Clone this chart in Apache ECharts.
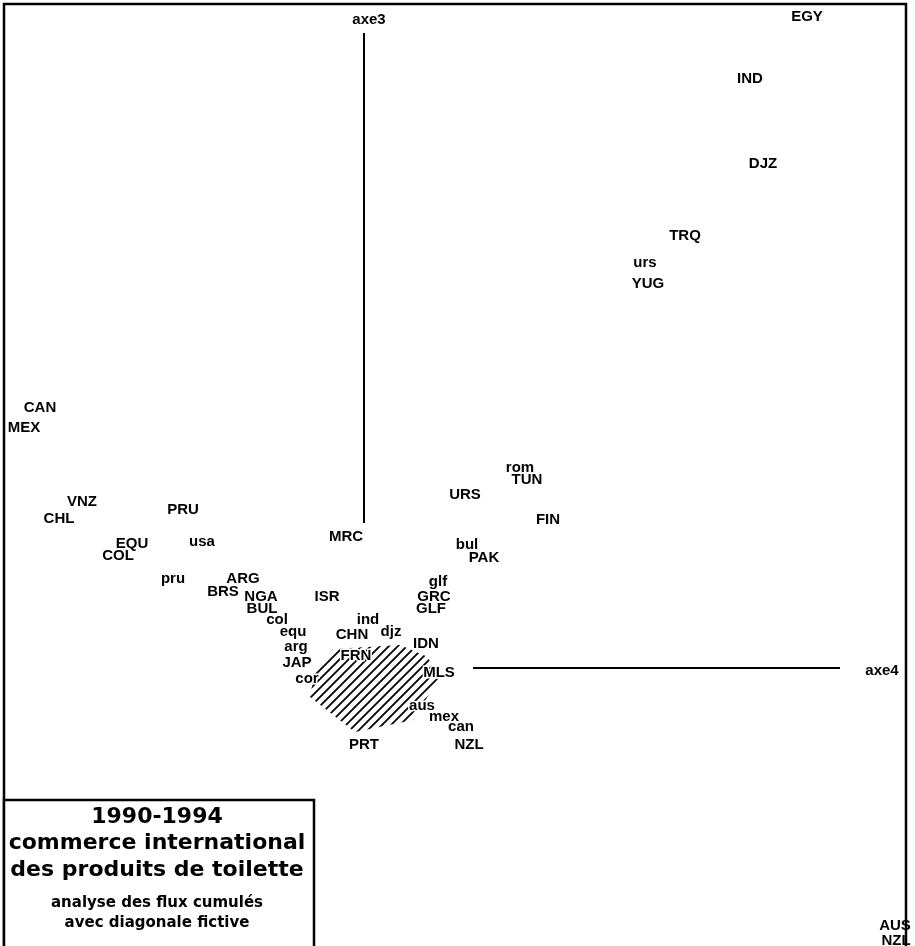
<!DOCTYPE html>
<html>
<head>
<meta charset="utf-8">
<script src="https://cdn.jsdelivr.net/npm/echarts@6/dist/echarts.min.js"></script>
<style>
html,body{margin:0;padding:0;background:#fff;}
#main{width:915px;height:946px;}
</style>
</head>
<body>
<div id="main"></div>
<script>
// Country labels (factor plane axe4 x axe3)
const names = ['EGY','IND','DJZ','TRQ','urs','YUG','CAN','MEX','VNZ','CHL','PRU','EQU','COL','usa','MRC','URS','rom','TUN','FIN','bul','PAK','pru','ARG','BRS','NGA','ISR','BUL','col','glf','GRC','GLF','ind','djz','CHN','equ','arg','IDN','JAP','FRN','MLS','cor','aus','mex','can','PRT','NZL','AUS','NZL'];
const xs = [4.43,3.86,3.99,3.21,2.81,2.84,-3.24,-3.40,-2.82,-3.05,-1.81,-2.32,-2.46,-1.62,-0.18,1.01,1.56,1.63,1.84,1.03,1.20,-1.91,-1.21,-1.41,-1.03,-0.37,-1.02,-0.87,0.74,0.70,0.67,0.04,0.27,-0.12,-0.71,-0.68,0.62,-0.67,-0.08,0.75,-0.57,0.58,0.80,0.97,0.00,1.05,5.31,5.32];
const ys = [6.51,5.89,5.04,4.32,4.05,3.84,2.60,2.40,1.66,1.49,1.58,1.24,1.12,1.26,1.31,1.73,2.00,1.88,1.48,1.23,1.10,0.89,0.89,0.76,0.71,0.71,0.59,0.48,0.86,0.71,0.59,0.48,0.36,0.33,0.36,0.21,0.24,0.05,0.12,-0.05,-0.11,-0.38,-0.49,-0.59,-0.77,-0.77,-2.58,-2.73];

// Axis segments and their labels
const axe3Line = [[0, 6.35], [0, 1.45]];
const axe4Line = [[1.09, 0], [4.76, 0]];
const axisNames = ['axe3', 'axe4'];
const axisLabelX = [0.05, 5.18];
const axisLabelY = [6.48, -0.03];

// Hatched zone (polygon vertices)
const hatchX = [-0.49, -0.31, 0.36, 0.64, 0.74, 0.49, -0.09, -0.54];
const hatchY = [-0.02, 0.19, 0.23, 0.11, -0.12, -0.52, -0.64, -0.29];

// Title box text
const titleLines = ['1990-1994', 'commerce international', 'des produits de toilette'];
const subLines = ['analyse des flux cumulés', 'avec diagonale fictive'];

// labels that sit on the hatched zone get a white halo
const haloNames = ['FRN', 'MLS', 'aus', 'cor', 'JAP', 'IDN'];

// hatch pattern
const T = 9;
const pc = document.createElement('canvas');
pc.width = T; pc.height = T;
const ctx = pc.getContext('2d');
ctx.strokeStyle = '#000';
ctx.lineWidth = 1.8;
ctx.beginPath();
ctx.moveTo(-1, T + 1); ctx.lineTo(T + 1, -1);
ctx.moveTo(-2, 2); ctx.lineTo(2, -2);
ctx.moveTo(T - 2, T + 2); ctx.lineTo(T + 2, T - 2);
ctx.stroke();

const fontFam = '"DejaVu Sans", sans-serif';
const labelFam = '"Liberation Sans", Arial, sans-serif';

const chart = echarts.init(document.getElementById('main'), null, {renderer: 'canvas'});

const labelData = names.map((n, i) => {
  const d = {name: n, value: [xs[i], ys[i]]};
  if (haloNames.indexOf(n) >= 0) d.label = {textBorderColor: '#fff', textBorderWidth: 3};
  return d;
});
const axisLabelData = axisNames.map((n, i) => ({name: n, value: [axisLabelX[i], axisLabelY[i]]}));

const gText = [];
titleLines.forEach((t, i) => {
  gText.push({type: 'text', z: 101,
    style: {text: t, x: 157, y: 817 + i * 26.5, fill: '#000', font: 'bold 22px ' + fontFam, textAlign: 'center', textVerticalAlign: 'middle'}});
});
subLines.forEach((t, i) => {
  gText.push({type: 'text', z: 101,
    style: {text: t, x: 157, y: 903 + i * 20, fill: '#000', font: 'bold 15px ' + fontFam, textAlign: 'center', textVerticalAlign: 'middle'}});
});

const labelStyle = {show: true, position: 'inside', formatter: '{b}', color: '#000',
  fontFamily: labelFam, fontWeight: 'bold', fontSize: 15, opacity: 1};

chart.setOption({
  animation: false,
  backgroundColor: '#fff',
  grid: {left: 0, right: 0, top: 0, bottom: 0},
  xAxis: {type: 'value', min: -3.64, max: 5.51, show: false},
  yAxis: {type: 'value', min: -2.78, max: 6.68, show: false},
  graphic: [
    {type: 'rect', z: 50, shape: {x: 4, y: 4, width: 902, height: 960},
      style: {fill: 'none', stroke: '#000', lineWidth: 2.5}},
    {type: 'rect', z: 100, shape: {x: 4, y: 800, width: 310, height: 160},
      style: {fill: '#fff', stroke: '#000', lineWidth: 2.5}}
  ].concat(gText),
  series: [
    {
      type: 'custom',
      z: 1,
      data: [0],
      renderItem: function (params, api) {
        const pts = hatchX.map((x, i) => api.coord([x, hatchY[i]]));
        return {
          type: 'polygon',
          shape: {points: pts},
          style: {fill: {image: pc, repeat: 'repeat'}, stroke: null}
        };
      },
      silent: true
    },
    {
      type: 'line', data: axe3Line, symbol: 'none', z: 2,
      lineStyle: {color: '#000', width: 2}, silent: true
    },
    {
      type: 'line', data: axe4Line, symbol: 'none', z: 2,
      lineStyle: {color: '#000', width: 2}, silent: true
    },
    {
      type: 'scatter', z: 5, symbolSize: 0, data: labelData, silent: true,
      itemStyle: {opacity: 1, color: '#000'},
      label: labelStyle
    },
    {
      type: 'scatter', z: 5, symbolSize: 0, data: axisLabelData, silent: true,
      itemStyle: {opacity: 1, color: '#000'},
      label: labelStyle
    }
  ]
});
</script>
</body>
</html>
